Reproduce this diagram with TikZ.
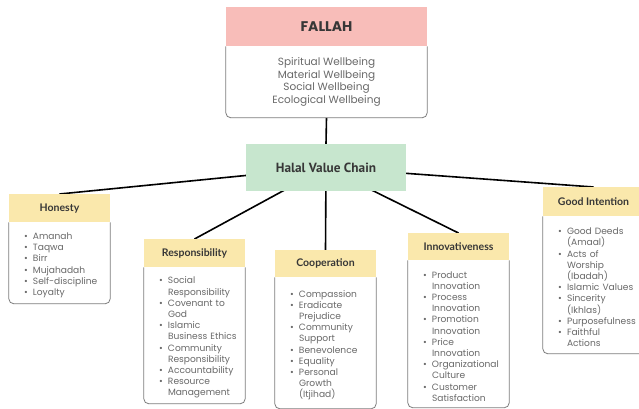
\documentclass[tikz,border=0pt]{standalone}
\usepackage{fontspec}
\setmainfont{Poppins}
\newfontfamily\headfont{Lato}
\newfontfamily\chainfont{PT Sans}
\usetikzlibrary{positioning,backgrounds}

\definecolor{pinkhead}{RGB}{248,189,185}
\definecolor{greenchain}{RGB}{199,230,206}
\definecolor{yellowhead}{RGB}{250,232,172}
\definecolor{framegray}{RGB}{125,125,125}
\definecolor{itemgray}{RGB}{105,105,105}
\definecolor{headgray}{RGB}{55,55,55}

% one bullet point with hanging indent
\newcommand{\itm}[1]{\par\hangindent=19pt\hangafter=1\noindent\hspace*{10pt}\makebox[9pt][l]{\textbullet}#1\par}
% open-topped frame with rounded bottom corners
\newcommand{\bodyframe}[1]{\draw[framebox] (#1.north west) |- (#1.south east) -- (#1.north east);}

\tikzset{
  valuehead/.style={fill=yellowhead, minimum width=101pt, anchor=north, inner sep=0pt,
    font=\headfont\bfseries\fontsize{10.5}{12}\selectfont, text=headgray},
  valuebody/.style={text width=91pt, inner xsep=5pt, inner ysep=0pt, align=left,
    font=\fontsize{9.1}{11.2}\selectfont, text=itemgray},
  framebox/.style={draw=framegray, line width=0.8pt, rounded corners=5pt},
  link/.style={line width=1.6pt, black}
}

\begin{document}
\begin{tikzpicture}[x=1pt,y=-1pt]
    \useasboundingbox (0,0) rectangle (639,409);
    \begin{scope}[on background layer]
        \fill[white] (0,0) rectangle (639,409);
    \end{scope}

    % Fallah
    \node[fill=pinkhead, minimum width=201pt, minimum height=39pt, anchor=north, inner sep=0pt,
        font=\bfseries\fontsize{14}{16}\selectfont, text=headgray] (fal) at (326.5,7) {FALLAH};
    \node[below=0pt of fal, minimum width=201pt, minimum height=71pt, align=center, inner sep=0pt,
        font=\fontsize{10.5}{12.6}\selectfont, text=itemgray] (falb)
        {Spiritual Wellbeing\\Material Wellbeing\\Social Wellbeing\\Ecological Wellbeing};
    \bodyframe{falb}

    % Halal value chain
    \node[fill=greenchain, minimum width=160pt, minimum height=47pt, inner sep=0pt,
        font=\chainfont\bfseries\fontsize{13.3}{15}\selectfont, text=headgray] (halal) at (326,167.5)
        {Halal Value Chain};

    % Honesty
    \node[valuehead, minimum height=28pt] (hon) at (59.5,194) {Honesty};
    \node[valuebody, below=0pt of hon, minimum height=81pt] (honb)
        {\itm{Amanah}\itm{Taqwa}\itm{Birr}\itm{Mujahadah}\itm{Self-discipline}\itm{Loyalty}};
    \bodyframe{honb}

    % Responsibility
    \node[valuehead, minimum height=28pt] (resp) at (194.5,239) {Responsibility};
    \node[valuebody, below=0pt of resp, minimum height=136pt] (respb)
        {\itm{Social\newline Responsibility}\itm{Covenant to\newline God}
         \itm{Islamic\newline Business Ethics}\itm{Community\newline Responsibility}
         \itm{Accountability}\itm{Resource\newline Management}};
    \bodyframe{respb}

    % Cooperation
    \node[valuehead, minimum height=27pt] (coop) at (325.5,250) {Cooperation};
    \node[valuebody, below=0pt of coop, minimum height=131pt] (coopb)
        {\itm{Compassion}\itm{Eradicate\newline Prejudice}\itm{Community\newline Support}
         \itm{Benevolence}\itm{Equality}\itm{Personal\newline Growth\newline (Itjihad)}};
    \bodyframe{coopb}

    % Innovativeness
    \node[valuehead, minimum height=27pt] (innov) at (458.5,233) {Innovativeness};
    \node[valuebody, below=0pt of innov, minimum height=147pt] (innovb)
        {\itm{Product\newline Innovation}\itm{Process\newline Innovation}
         \itm{Promotion\newline Innovation}\itm{Price\newline Innovation}
         \itm{Organizational\newline Culture}\itm{Customer\newline Satisfaction}};
    \bodyframe{innovb}

    % Good intention
    \node[valuehead, minimum height=29pt] (good) at (593.5,187) {Good Intention};
    \node[valuebody, below=0pt of good, minimum height=137pt] (goodb)
        {\itm{Good Deeds\newline (Amaal)}\itm{Acts of\newline Worship\newline (Ibadah)}
         \itm{Islamic Values}\itm{Sincerity\newline (Ikhlas)}\itm{Purposefulness}
         \itm{Faithful\newline Actions}};
    \bodyframe{goodb}

    % connectors behind the boxes
    \begin{scope}[on background layer]
        \draw[link] (falb.south) -- (halal.north);
        \draw[link] (halal.center) -- (hon.north);
        \draw[link] (halal.center) -- (resp.north);
        \draw[link] (halal.center) -- (coop.north);
        \draw[link] (halal.center) -- (innov.north);
        \draw[link] (halal.center) -- (good.north);
    \end{scope}
\end{tikzpicture}
\end{document}
